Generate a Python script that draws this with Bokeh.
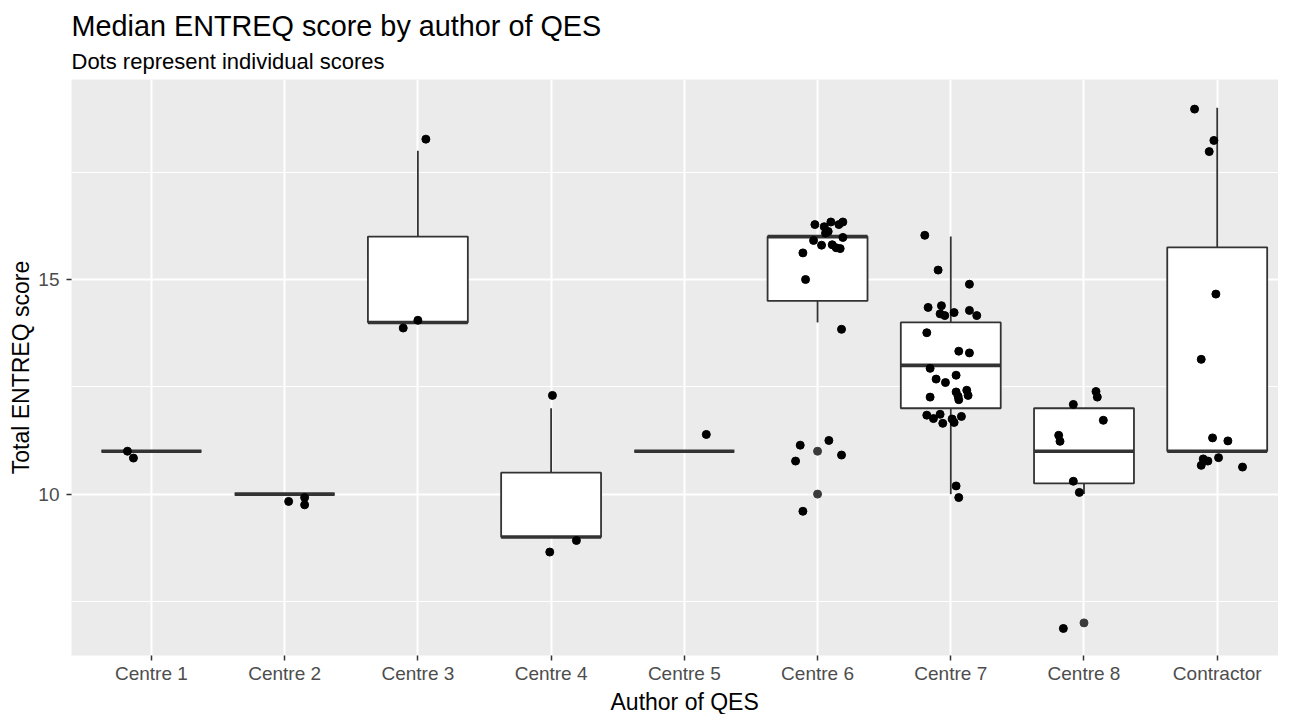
from bokeh.plotting import figure
from bokeh.models import Range1d, FixedTicker, Title, ColumnDataSource
from bokeh.embed import file_html
from bokeh.resources import INLINE

# ---------------- data ----------------
categories = ["Centre 1", "Centre 2", "Centre 3", "Centre 4", "Centre 5",
              "Centre 6", "Centre 7", "Centre 8", "Contractor"]

# box-plot statistics
box_q1 = [11, 10, 14, 9, 11, 14.5, 12, 10.25, 11]
box_median = [11, 10, 14, 9, 11, 16, 13, 11, 11]
box_q3 = [11, 10, 16, 10.5, 11, 16, 14, 12, 15.75]
whisker_low = [11, 10, 14, 9, 11, 14, 10, 10, 11]
whisker_high = [11, 10, 18, 12, 11, 16, 16, 12, 19]

# box-plot outliers
outlier_cat = ["Centre 6", "Centre 6", "Centre 8"]
outlier_y = [11, 10, 7]

# individual (jittered) scores: category, horizontal jitter, score
point_cat = (
    ["Centre 1"] * 2 + ["Centre 2"] * 3 + ["Centre 3"] * 3 + ["Centre 4"] * 3 +
    ["Centre 5"] * 1 + ["Centre 6"] * 21 + ["Centre 7"] * 32 +
    ["Centre 8"] * 9 + ["Contractor"] * 12
)
point_jitter = [
    -0.18, -0.135,
    0.03, 0.15, 0.15,
    0.06, 0.0, -0.11,
    0.01, 0.19, -0.01,
    0.165,
    -0.02, 0.05, 0.10, 0.16, 0.19, 0.06, 0.08, 0.19, -0.03, 0.03, 0.11,
    0.14, 0.17, -0.11, -0.09, 0.18, -0.13, 0.085, 0.18, -0.165, -0.11,
    -0.195, -0.095, 0.14, -0.17, -0.07, -0.08, -0.045, 0.025, 0.14, 0.195,
    -0.18, 0.06, 0.14, -0.155, -0.11, -0.04, 0.04, -0.155, 0.04, 0.055,
    0.06, 0.12, 0.13, -0.18, -0.13, -0.08, -0.06, 0.01, 0.025, 0.08,
    0.04, 0.06,
    0.09, 0.10, -0.08, 0.145, -0.19, -0.18, -0.08, -0.035, -0.155,
    -0.17, -0.025, -0.06, -0.01, -0.12, -0.035, 0.08, -0.105, -0.07,
    -0.12, 0.01, 0.19,
]
point_y = [
    11.0, 10.84,
    9.83, 9.92, 9.75,
    18.27, 14.05, 13.87,
    12.30, 8.92, 8.65,
    11.39,
    16.28, 16.23, 16.34, 16.28, 16.34, 16.08, 16.12, 15.98, 15.91, 15.80, 15.81,
    15.74, 15.72, 15.62, 15.0, 13.84, 11.14, 11.25, 10.91, 10.77, 9.60,
    16.03, 15.22, 14.89, 14.35, 14.39, 14.20, 14.16, 14.23, 14.28, 14.16,
    13.76, 13.33, 13.29, 12.93, 12.68, 12.60, 12.77, 12.26, 12.38, 12.28,
    12.20, 12.42, 12.30, 11.84, 11.76, 11.86, 11.65, 11.75, 11.67, 11.81,
    10.19, 9.92,
    12.39, 12.26, 12.09, 11.72, 11.37, 11.23, 10.30, 10.04, 6.87,
    18.97, 18.24, 17.98, 14.66, 13.14, 11.31, 11.24, 10.82, 10.77,
    10.67, 10.85, 10.63,
]

title_text = "Median ENTREQ score by author of QES"
subtitle_text = "Dots represent individual scores"
x_title = "Author of QES"
y_title = "Total ENTREQ score"
y_ticks = [10, 15]
y_minor = [7.5, 12.5, 17.5]

# ---------------- figure ----------------
FONT = "Liberation Sans"
pos = {c: i + 1 for i, c in enumerate(categories)}
BOX_W = 0.75

p = figure(frame_width=1207, frame_height=576, output_backend="svg",
           toolbar_location=None, title=None,
           x_range=Range1d(0.4, 9.46), y_range=Range1d(6.24, 19.66),
           min_border_left=71, min_border_right=0, min_border_top=79,
           min_border_bottom=57)
p.background_fill_color = "#EBEBEB"
p.border_fill_color = "white"
p.outline_line_color = None

p.add_layout(Title(text=subtitle_text, text_font=FONT, text_font_size="22px",
                   text_font_style="normal", text_color="black", align="left",
                   standoff=11, offset=0), "above")
p.add_layout(Title(text=title_text, text_font=FONT, text_font_size="28.8px",
                   text_font_style="normal", text_color="black", align="left",
                   standoff=0, offset=0), "above")

# x-axis title, centred under the (full-width) panel of the original
p.add_layout(Title(text=x_title, text_font=FONT, text_font_size="23px",
                   text_font_style="normal", text_color="black", align="left",
                   offset=539, standoff=0), "below")

# axes
xs = list(range(1, len(categories) + 1))
p.xaxis.ticker = FixedTicker(ticks=xs)
p.xaxis.major_label_overrides = {i: c for i, c in zip(xs, categories)}
p.yaxis.ticker = FixedTicker(ticks=y_ticks, minor_ticks=y_minor)
for ax in (p.xaxis, p.yaxis):
    ax.axis_line_color = None
    ax.major_tick_line_color = "#333333"
    ax.major_tick_line_width = 1.5
    ax.major_tick_out = 5
    ax.major_tick_in = 0
    ax.minor_tick_line_color = None
    ax.major_label_text_font = FONT
    ax.major_label_text_font_size = "19px"
    ax.major_label_text_color = "#4D4D4D"
    ax.axis_label_text_font = FONT
    ax.axis_label_text_font_size = "23px"
    ax.axis_label_text_font_style = "normal"
    ax.axis_label_text_color = "black"
p.yaxis.axis_label = y_title
p.xaxis.major_label_standoff = 2
p.yaxis.major_label_standoff = 7
p.yaxis.axis_label_standoff = 1

p.xgrid.grid_line_color = "white"
p.xgrid.grid_line_width = 2
p.ygrid.grid_line_color = "white"
p.ygrid.grid_line_width = 2
p.ygrid.minor_grid_line_color = "white"
p.ygrid.minor_grid_line_width = 1

# boxes
bx = [pos[c] for c in categories]
box_src = ColumnDataSource(dict(
    x=bx, q1=box_q1, med=box_median, q3=box_q3, lo=whisker_low, hi=whisker_high,
    x0=[v - BOX_W / 2 for v in bx], x1=[v + BOX_W / 2 for v in bx]))
p.segment(x0="x", y0="q3", x1="x", y1="hi", source=box_src,
          line_color="#333333", line_width=1.8)
p.segment(x0="x", y0="q1", x1="x", y1="lo", source=box_src,
          line_color="#333333", line_width=1.8)
p.vbar(x="x", width=BOX_W, bottom="q1", top="q3", source=box_src,
       fill_color="white", line_color="#333333", line_width=1.8)
p.segment(x0="x0", y0="med", x1="x1", y1="med", source=box_src,
          line_color="#333333", line_width=3.6, line_cap="butt")

# outliers
p.scatter(x=[pos[c] for c in outlier_cat], y=outlier_y, size=8,
          fill_color="#3A3A3A", line_color="#3A3A3A")

# jittered points
p.scatter(x=[pos[c] + j for c, j in zip(point_cat, point_jitter)], y=point_y,
          size=8, fill_color="black", line_color="black")

open("out.html", "w").write(file_html(p, INLINE))
